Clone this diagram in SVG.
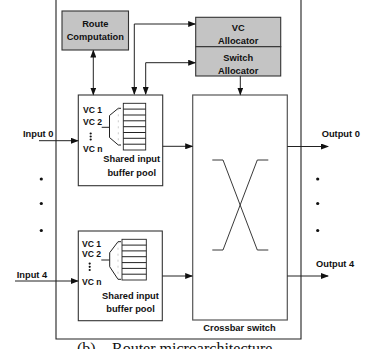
<svg xmlns="http://www.w3.org/2000/svg" width="371" height="349" viewBox="0 0 371 349">
<style>
.t{font-family:"Liberation Sans",Arial,sans-serif;font-weight:bold;font-size:9.3px;fill:#111;}
.c{text-anchor:middle;}
.vc{font-family:"Liberation Sans",Arial,sans-serif;font-weight:bold;font-size:8.6px;fill:#111;}
.ln{fill:none;stroke:#222;stroke-width:1;}
.box{fill:#fff;stroke:#333;stroke-width:1.1;}
.gbox{fill:#c4c4c4;stroke:#333;stroke-width:1.1;}
.xbar{fill:#fff;stroke:#555;stroke-width:1.2;}
.buf{fill:#fff;stroke:#222;stroke-width:0.9;}
.cap{font-family:"Liberation Serif","Times New Roman",serif;font-size:16px;fill:#111;}
</style>
<defs>
<marker id="ah" markerWidth="8" markerHeight="6" refX="7" refY="3" orient="auto-start-reverse" markerUnits="userSpaceOnUse">
<path d="M0,0 L8,3 L0,6 z" fill="#111"/>
</marker>
</defs>

<g id="frame">
<path d="M56,-1 V339 H301 V-1" fill="none" stroke="#222" stroke-width="1.1"/>
</g>

<g id="route-computation">
<rect class="gbox" x="62" y="11" width="66.5" height="39"/>
<text class="t c" x="95.3" y="27.3">Route</text>
<text class="t c" x="95.3" y="39.5">Computation</text>
</g>

<g id="vc-allocator">
<rect class="gbox" x="195.7" y="17.3" width="85" height="29.4"/>
<text class="t c" x="238.2" y="30.5">VC</text>
<text class="t c" x="238.2" y="43.8">Allocator</text>
</g>

<g id="switch-allocator">
<rect class="gbox" x="195.7" y="46.7" width="85" height="29.3"/>
<text class="t c" x="238.2" y="61">Switch</text>
<text class="t c" x="238.2" y="74">Allocator</text>
</g>

<g id="input-buffer-0">
<rect class="box" x="78.3" y="95" width="84.4" height="90.7"/>
<text class="vc" x="83" y="113.3">VC 1</text>
<text class="vc" x="83" y="125">VC 2</text>
<circle cx="90.7" cy="133.5" r="1.1" fill="#111"/>
<circle cx="90.7" cy="136.5" r="1.1" fill="#111"/>
<circle cx="90.7" cy="139.5" r="1.1" fill="#111"/>
<text class="vc" x="83" y="152.3">VC n</text>
<path class="ln" d="M101.7,127.3 H109.5"/>
<path class="ln" d="M121,108.3 H118.3 L109.5,115.5 V137.5 L118.3,145 H121"/>
<path d="M118.3,108.3 V145" fill="none" stroke="#999" stroke-width="0.5" stroke-dasharray="2,4"/>
<rect class="buf" x="123.3" y="103.3" width="22.4" height="46.7"/>
<path class="ln" stroke-width="0.9" d="M123.3,109.1 H145.7 M123.3,115 H145.7 M123.3,120.8 H145.7 M123.3,126.7 H145.7 M123.3,132.5 H145.7 M123.3,138.3 H145.7 M123.3,144.2 H145.7"/>
<text class="t c" x="131.7" y="162">Shared input</text>
<text class="t c" x="131.7" y="175.5">buffer pool</text>
</g>

<g id="input-buffer-4">
<rect class="box" x="78.3" y="231" width="84" height="89.7"/>
<text class="vc" x="82" y="246.7">VC 1</text>
<text class="vc" x="82" y="256.7">VC 2</text>
<circle cx="89.7" cy="263.6" r="1.1" fill="#111"/>
<circle cx="89.7" cy="266.8" r="1.1" fill="#111"/>
<circle cx="89.7" cy="270" r="1.1" fill="#111"/>
<text class="vc" x="82" y="285">VC n</text>
<path class="ln" d="M101.3,260 H109.7"/>
<path class="ln" d="M121,241.7 H118 L109.7,252.7 V266.7 L118,279.3 H121"/>
<path d="M118,241.7 V279.3" fill="none" stroke="#999" stroke-width="0.5" stroke-dasharray="2,4"/>
<rect class="buf" x="122" y="239.3" width="24.3" height="40.7"/>
<path class="ln" stroke-width="0.9" d="M122,245.1 H146.3 M122,250.9 H146.3 M122,256.7 H146.3 M122,262.6 H146.3 M122,268.4 H146.3 M122,274.2 H146.3"/>
<text class="t c" x="130.5" y="299">Shared input</text>
<text class="t c" x="130.5" y="311.5">buffer pool</text>
</g>

<g id="crossbar-switch">
<rect class="xbar" x="192.7" y="95" width="94.6" height="225"/>
<path d="M212.3,160 H223 L257.3,250 H268.3 M268.3,160 H257.3 L223,250 H212.3" fill="none" stroke="#222" stroke-width="0.9"/>
<text class="t c" x="239.5" y="331">Crossbar switch</text>
</g>

<g id="labels">
<text class="t" x="23" y="137.2">Input 0</text>
<text class="t" x="16.7" y="278">Input 4</text>
<text class="t" x="321.7" y="137.2">Output 0</text>
<text class="t" x="316" y="266.8">Output 4</text>
<circle cx="41.3" cy="179" r="1.6" fill="#111"/>
<circle cx="41.3" cy="203.5" r="1.6" fill="#111"/>
<circle cx="41.3" cy="230.5" r="1.6" fill="#111"/>
<circle cx="317.7" cy="179" r="1.6" fill="#111"/>
<circle cx="317.7" cy="203.5" r="1.6" fill="#111"/>
<circle cx="317.7" cy="230.5" r="1.6" fill="#111"/>
</g>

<g id="connectors">
<path class="ln" d="M93.3,50.5 V94.5" marker-start="url(#ah)" marker-end="url(#ah)"/>
<path class="ln" d="M134.3,94 V24 H195.2" marker-start="url(#ah)" marker-end="url(#ah)"/>
<path class="ln" d="M145.7,94 V62.7 H195.2" marker-start="url(#ah)" marker-end="url(#ah)"/>
<path class="ln" d="M240.3,76 V94.5" marker-end="url(#ah)"/>
<path class="ln" d="M39,140.7 H77.8" marker-end="url(#ah)"/>
<path class="ln" d="M15,281 H77.8" marker-end="url(#ah)"/>
<path class="ln" d="M162.7,146.3 H192.2" marker-end="url(#ah)"/>
<path class="ln" d="M162.3,276 H192.2" marker-end="url(#ah)"/>
<path class="ln" d="M287.3,146.5 H328" marker-end="url(#ah)"/>
<path class="ln" d="M287.3,276 H328" marker-end="url(#ah)"/>
</g>

<g id="caption">
<text class="cap" x="77" y="354">(b)</text>
<text class="cap" x="112" y="354">Router microarchitecture</text>
</g>
</svg>
